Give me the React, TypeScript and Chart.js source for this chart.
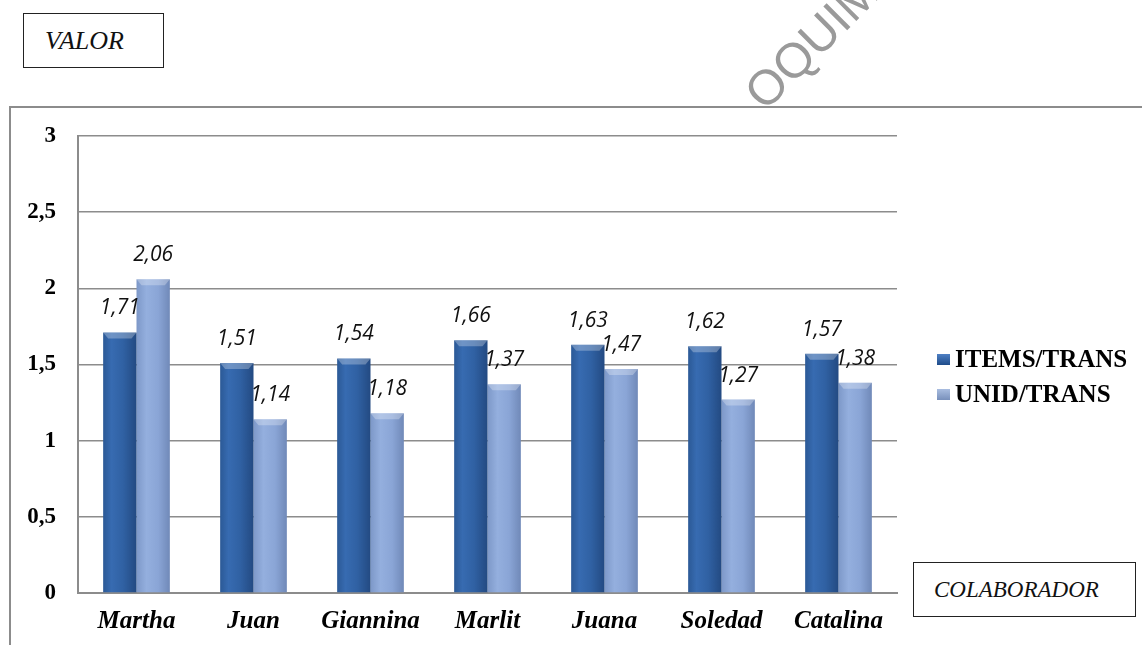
import React, { useEffect, useRef } from "react";
import { Chart, registerables } from "chart.js";

Chart.register(...registerables);

const CATEGORIES = ["Martha", "Juan", "Giannina", "Marlit", "Juana", "Soledad", "Catalina"];
const ITEMS_TRANS = [1.71, 1.51, 1.54, 1.66, 1.63, 1.62, 1.57];
const UNID_TRANS = [2.06, 1.14, 1.18, 1.37, 1.47, 1.27, 1.38];
const SERIES_NAMES = ["ITEMS/TRANS", "UNID/TRANS"];
const Y_TICK_LABELS = ["0", "0,5", "1", "1,5", "2", "2,5", "3"];
const Y_MIN = 0;
const Y_MAX = 3;
const Y_STEP = 0.5;

const CAT_PCT = 0.57;
const GRID = "#8c8c8c";

function fmt(v: number) {
  return v.toFixed(2).replace(".", ",");
}

function barGradient(ctx: any, stops: [number, string][], fallback: string) {
  const chart = ctx.chart;
  const xs = chart.scales && chart.scales.x;
  if (!xs || ctx.type !== "data" || !xs.width) return fallback;
  const cx = xs.getPixelForValue(ctx.dataIndex);
  const w = (xs.width / CATEGORIES.length) * CAT_PCT / 2;
  const left = ctx.datasetIndex === 0 ? cx - w : cx;
  const g = chart.ctx.createLinearGradient(left, 0, left + w, 0);
  stops.forEach(([o, c]) => g.addColorStop(o, c));
  return g;
}

const bevelAndLabels = {
  id: "bevelAndLabels",
  afterDatasetsDraw(chart: any) {
    const c = chart.ctx;
    chart.data.datasets.forEach((ds: any, di: number) => {
      const meta = chart.getDatasetMeta(di);
      meta.data.forEach((bar: any) => {
        const half = bar.width / 2;
        const l = bar.x - half;
        const r = bar.x + half;
        const t = bar.y;
        c.save();
        c.beginPath();
        c.moveTo(l, t);
        c.lineTo(r, t);
        c.lineTo(r - 5, t + 6);
        c.lineTo(l + 5, t + 6);
        c.closePath();
        c.fillStyle = "rgba(255,255,255,0.28)";
        c.fill();
        c.restore();
      });
    });
    chart.data.datasets.forEach((ds: any, di: number) => {
      const meta = chart.getDatasetMeta(di);
      meta.data.forEach((bar: any, i: number) => {
        c.save();
        c.font = "italic 21px 'Open Sans'";
        c.fillStyle = "#111";
        c.textAlign = "center";
        c.textBaseline = "middle";
        c.fillText(fmt(ds.data[i]), bar.x, bar.y - 24);
        c.restore();
      });
    });
  },
};

function ChartCanvas() {
  const ref = useRef<HTMLCanvasElement | null>(null);
  useEffect(() => {
    if (!ref.current) return;
    const chart = new Chart(ref.current, {
      type: "bar",
      data: {
        labels: CATEGORIES,
        datasets: [
          {
            label: SERIES_NAMES[0],
            data: ITEMS_TRANS,
            backgroundColor: (ctx: any) =>
              barGradient(
                ctx,
                [
                  [0, "#2b5996"],
                  [0.25, "#376bb1"],
                  [0.6, "#3061a3"],
                  [1, "#234a82"],
                ],
                "#2f5fa0"
              ),
            borderWidth: 0,
            categoryPercentage: CAT_PCT,
            barPercentage: 1,
          },
          {
            label: SERIES_NAMES[1],
            data: UNID_TRANS,
            backgroundColor: (ctx: any) =>
              barGradient(
                ctx,
                [
                  [0, "#7d98c8"],
                  [0.3, "#94afde"],
                  [0.65, "#8aa5d6"],
                  [1, "#7089b8"],
                ],
                "#8ea9da"
              ),
            borderWidth: 0,
            categoryPercentage: CAT_PCT,
            barPercentage: 1,
          },
        ],
      },
      options: {
        animation: false,
        responsive: false,
        maintainAspectRatio: false,
        layout: { padding: { left: 0, top: 28, right: 245, bottom: 0 } },
        plugins: {
          legend: { display: false },
          tooltip: { enabled: false },
          title: { display: false },
        },
        scales: {
          x: {
            grid: { display: false, drawTicks: false },
            border: { display: true, color: GRID, width: 2 },
            ticks: {
              color: "#000",
              padding: 14,
              font: { family: "'Liberation Serif'", size: 25, style: "italic", weight: "bold" },
            },
            afterFit: (s: any) => {
              s.height = 52;
            },
          },
          y: {
            min: Y_MIN,
            max: Y_MAX,
            grid: { color: GRID, lineWidth: 1.5, drawTicks: false },
            border: { display: true, color: GRID, width: 2 },
            ticks: {
              stepSize: Y_STEP,
              color: "#000",
              padding: 22,
              font: { family: "'Liberation Serif'", size: 23, weight: "bold" },
              callback: (_v: any, i: number) => Y_TICK_LABELS[i],
            },
            afterFit: (s: any) => {
              s.width = 67;
              s.paddingTop = 14;
              s.paddingBottom = 14;
            },
          },
        },
      },
      plugins: [bevelAndLabels],
    } as any);
    return () => chart.destroy();
  }, []);
  return <canvas ref={ref} width={1131} height={537} style={{ display: "block", width: 1131, height: 537 }} />;
}

const boxStyle: React.CSSProperties = {
  position: "absolute",
  boxSizing: "border-box",
  border: "1.5px solid #222",
  background: "#fff",
  display: "flex",
  alignItems: "center",
  fontFamily: "'Liberation Serif'",
  fontStyle: "italic",
  color: "#111",
};

export default function App() {
  useEffect(() => {
    document.body.style.margin = "0";
  }, []);
  return (
    <div
      style={{
        position: "fixed",
        left: 0,
        top: 0,
        width: 1142,
        height: 645,
        overflow: "hidden",
        background: "#fff",
      }}
    >
      <div
        style={{
          position: "absolute",
          left: 812,
          top: 42,
          transform: "translate(-50%, -50%) rotate(-45deg)",
          fontFamily: "'Liberation Sans'",
          fontSize: 49,
          color: "#9a9a9a",
          whiteSpace: "nowrap",
          lineHeight: 1,
        }}
      >
        OQUIM
      </div>
      <div style={{ ...boxStyle, left: 23, top: 13, width: 141, height: 55, paddingLeft: 21, fontSize: 26 }}>
        VALOR
      </div>
      <div
        style={{
          position: "absolute",
          left: 9,
          top: 106,
          width: 1140,
          height: 545,
          borderTop: "2px solid #8c8c8c",
          borderLeft: "2px solid #8c8c8c",
          background: "#fff",
        }}
      >
        <ChartCanvas />
      </div>
      {SERIES_NAMES.map((name, i) => (
        <div
          key={name}
          style={{
            position: "absolute",
            left: 937,
            top: 346 + i * 35,
            height: 26,
            display: "flex",
            alignItems: "center",
            fontFamily: "'Liberation Serif'",
            fontWeight: "bold",
            fontSize: 25,
            color: "#000",
            whiteSpace: "nowrap",
          }}
        >
          <span
            style={{
              display: "inline-block",
              width: 13,
              height: 11,
              marginRight: 5,
              background:
                i === 0
                  ? "linear-gradient(180deg, #4f80c4, #1f4c8a)"
                  : "linear-gradient(180deg, #a9bde0, #7890bb)",
            }}
          />
          {name}
        </div>
      ))}
      <div style={{ ...boxStyle, left: 913, top: 562, width: 223, height: 55, paddingLeft: 20, fontSize: 23 }}>
        COLABORADOR
      </div>
    </div>
  );
}
